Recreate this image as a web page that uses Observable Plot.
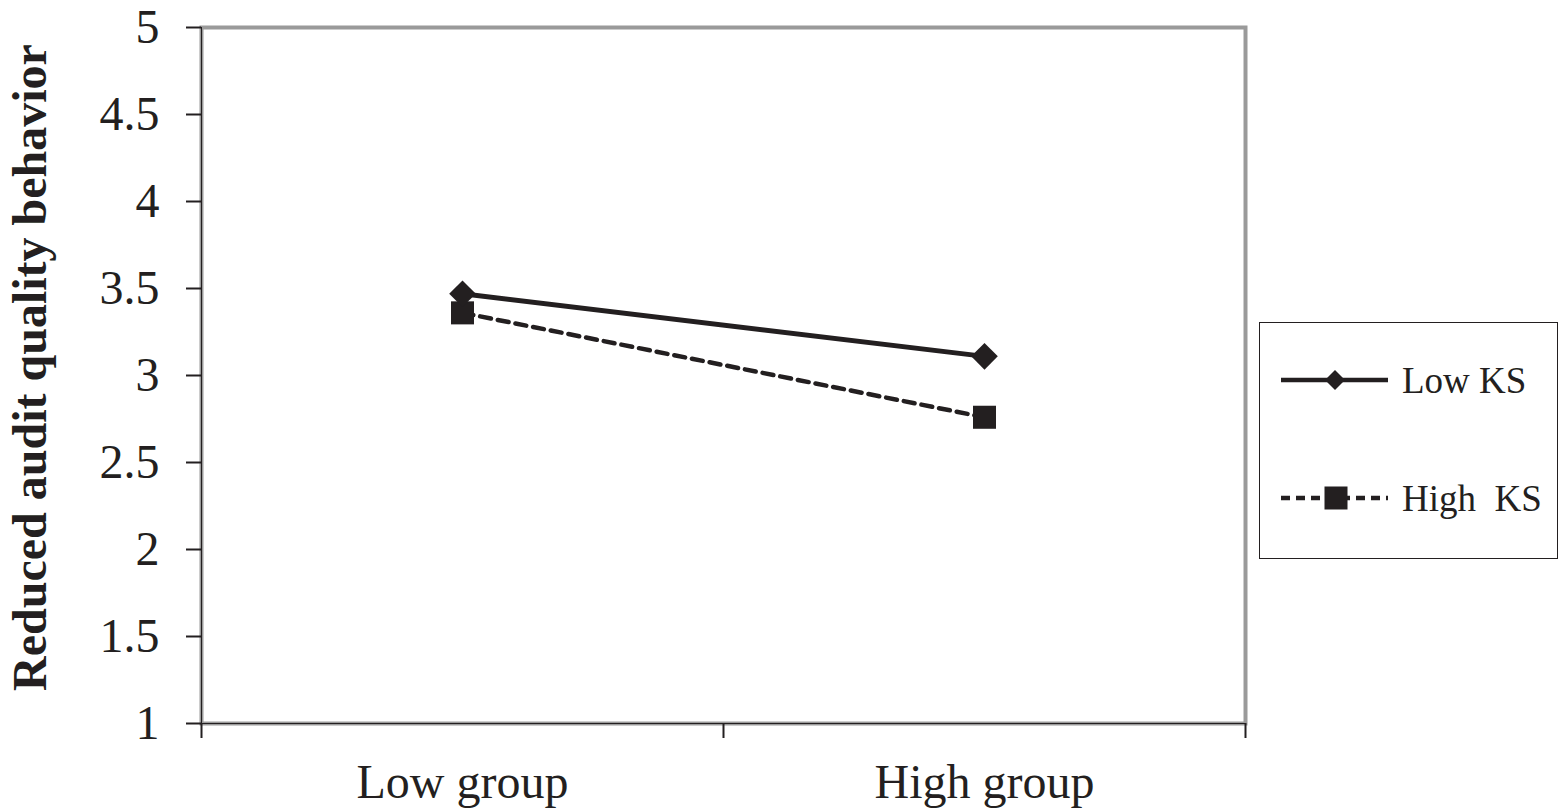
<!DOCTYPE html>
<html>
<head>
<meta charset="utf-8">
<script src="https://cdn.jsdelivr.net/npm/d3@7"></script>
<script src="https://cdn.jsdelivr.net/npm/@observablehq/plot@0.6"></script>
<style>
  html, body { margin: 0; padding: 0; background: #fff; }
  #wrap { position: relative; width: 1562px; height: 812px; font-family: "Liberation Serif", "Times New Roman", serif; }
  #legend { position: absolute; left: 1259px; top: 322px; width: 297px; height: 235px; border: 1.5px solid #231f20; background: #fff; }
  .row { position: absolute; left: 0; height: 40px; display: flex; align-items: center; }
  .row span { font-size: 37px; color: #231f20; margin-left: 12px; }
</style>
</head>
<body>
<div id="wrap"></div>
<script>
const categories = ["Low group", "High group"];
const categoryPos = [0.5, 1.5];
const seriesNames = ["Low KS", "High KS"];
const lowKS = [3.47, 3.11];
const highKS = [3.36, 2.76];
const yTicks = [1, 1.5, 2, 2.5, 3, 3.5, 4, 4.5, 5];
const yLabel = "Reduced audit quality behavior";

const ink = "#231f20";
const data = [];
categories.forEach((c, i) => {
  data.push({series: seriesNames[0], cat: c, x: categoryPos[i], y: lowKS[i]});
  data.push({series: seriesNames[1], cat: c, x: categoryPos[i], y: highKS[i]});
});
const lowData = data.filter(d => d.series === "Low KS");
const highData = data.filter(d => d.series === "High KS");

const chart = Plot.plot({
  width: 1562,
  height: 812,
  marginLeft: 201,
  marginRight: 317,
  marginTop: 27,
  marginBottom: 89,
  style: {fontFamily: "Liberation Serif, Times New Roman, serif", background: "#fff", color: ink},
  x: {domain: [0, 2]},
  y: {domain: [1, 5]},
  marks: [
    Plot.frame({stroke: "#9a9a9a", strokeWidth: 4}),
    Plot.ruleX([0], {stroke: ink, strokeWidth: 1}),
    Plot.ruleY([1], {stroke: ink, strokeWidth: 1}),
    Plot.axisY({ticks: yTicks, tickSize: 15, tickPadding: 27, fontSize: 48, label: null, stroke: ink, strokeWidth: 2, tickFormat: d => String(d)}),
    Plot.axisX({ticks: [0, 1, 2], tickSize: 15, tickFormat: () => "", label: null, stroke: ink, strokeWidth: 2}),
    Plot.axisX({ticks: categoryPos, tickSize: 0, tickPadding: 40, fontSize: 48, label: null, tickFormat: (d, i) => categories[i]}),
    Plot.text([yLabel], {frameAnchor: "left", dx: -171, dy: -8, rotate: -90, fontSize: 48, fontWeight: "bold", fill: ink, textAnchor: "middle"}),
    Plot.line(lowData, {x: "x", y: "y", stroke: ink, strokeWidth: 5}),
    Plot.line(highData, {x: "x", y: "y", stroke: ink, strokeWidth: 4.5, strokeDasharray: "11,7"}),
    Plot.dot(highData, {x: "x", y: "y", symbol: "square", r: 13, fill: ink, stroke: "none"}),
    Plot.dot(lowData, {x: "x", y: "y", symbol: "diamond2", r: 12, fill: ink, stroke: "none"})
  ]
});

const wrap = document.getElementById("wrap");
wrap.appendChild(chart);

const legend = document.createElement("div");
legend.id = "legend";
legend.innerHTML = `
  <div class="row" style="top:37px;">
    <svg width="130" height="40"><line x1="21" x2="128" y1="20" y2="20" stroke="${ink}" stroke-width="4.5"/>
      <path d="M75,10 L85,20 L75,30 L65,20 Z" fill="${ink}"/></svg>
    <span>${seriesNames[0]}</span>
  </div>
  <div class="row" style="top:155px;">
    <svg width="130" height="40"><line x1="21" x2="128" y1="20" y2="20" stroke="${ink}" stroke-width="4.5" stroke-dasharray="9,6"/>
      <rect x="64.5" y="8.5" width="23" height="23" fill="${ink}"/></svg>
    <span>High&nbsp; KS</span>
  </div>`;
wrap.appendChild(legend);
</script>
</body>
</html>
